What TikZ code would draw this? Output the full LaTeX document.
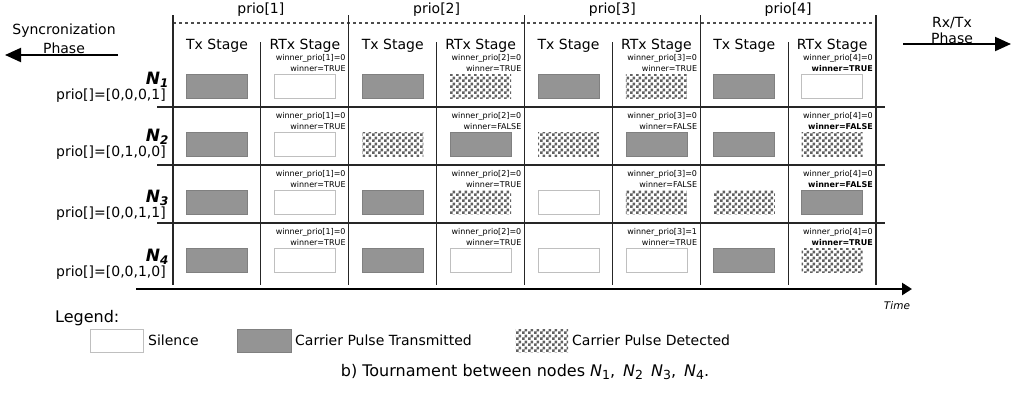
\documentclass[tikz,border=0pt]{standalone}
\usepackage{fontspec}
\setmainfont{DejaVu Sans}
\usetikzlibrary{patterns,arrows.meta}
\pgfdeclarepatternformonly{chk}{\pgfpointorigin}{\pgfqpoint{6pt}{6pt}}{\pgfqpoint{6pt}{6pt}}{%
  \pgfpathrectangle{\pgfpointorigin}{\pgfqpoint{3pt}{3pt}}%
  \pgfpathrectangle{\pgfqpoint{3pt}{3pt}}{\pgfqpoint{3pt}{3pt}}%
  \pgfusepath{fill}}
\newcommand{\capsub}[1]{\raisebox{-3.5pt}{\fontsize{12.5}{13}\selectfont #1}}
\tikzset{
  hdr/.style={font=\fontsize{14}{16}\selectfont, inner sep=0},
  win/.style={font=\fontsize{8}{9}\selectfont, inner sep=0, anchor=east},
  cellbox/.style={minimum width=61pt, minimum height=24pt, inner sep=0, line width=0.8pt},
  sil/.style={cellbox, draw=black!25, fill=white},
  txd/.style={cellbox, draw=black!50, fill=black!42},
  det/.style={cellbox, pattern=chk, pattern color=black!62},
  gridline/.style={line width=1.2pt, black!85},
  nlab/.style={font=\fontsize{17}{19}\selectfont\bfseries\itshape, inner sep=0, anchor=east},
  plab/.style={font=\fontsize{14}{16}\selectfont, inner sep=0, anchor=east},
  phasearrow/.style={line width=2pt, -{Triangle[length=16pt,width=14pt]}},
}
\begin{document}
\begin{tikzpicture}[x=1pt,y=-1pt]
\useasboundingbox[fill=white] (0,0) rectangle (1013,394);

% top prio labels and dashed line
\foreach \k in {0,...,3}{
  \node[hdr] (prio\k) at (260.875+175.75*\k,10) {prio[\the\numexpr\k+1\relax]};
  \node[hdr] (txh\k) at (217+175.75*\k,46) {Tx Stage};
  \node[hdr] (rtxh\k) at (304.9+175.75*\k,46) {RTx Stage};
}
\draw[line width=1.2pt, black!70, dash pattern=on 3pt off 3pt] (173,23) -- (876,23);

% grid lines
\foreach \k in {0,...,4}{
  \draw[gridline] (173+175.75*\k,15) -- (173+175.75*\k,285);
}
\foreach \k in {0,...,3}{
  \draw[gridline] (260.875+175.75*\k,42) -- (260.875+175.75*\k,285);
}
\foreach \y in {107,165,223}{
  \draw[gridline] (157,\y) -- (885,\y);
}

% row labels
\node[nlab] (n1) at (169,80) {N\textsubscript{1}};
\node[plab] (p1) at (166,96) {prio[]=[0,0,0,1]};
\node[nlab] (n2) at (169,137) {N\textsubscript{2}};
\node[plab] (p2) at (166,153) {prio[]=[0,1,0,0]};
\node[nlab] (n3) at (169,198) {N\textsubscript{3}};
\node[plab] (p3) at (166,214) {prio[]=[0,0,1,1]};
\node[nlab] (n4) at (169,257) {N\textsubscript{4}};
\node[plab] (p4) at (166,273) {prio[]=[0,0,1,0]};

% cells
\foreach \r/\p/\a/\b/\w/\v in {
1/1/txd/sil/0/TRUE, 1/2/txd/det/0/TRUE, 1/3/txd/det/0/TRUE, 1/4/txd/sil/0/TRUE,
2/1/txd/sil/0/TRUE, 2/2/det/txd/0/FALSE, 2/3/det/txd/0/FALSE, 2/4/txd/det/0/FALSE,
3/1/txd/sil/0/TRUE, 3/2/txd/det/0/TRUE, 3/3/sil/det/0/FALSE, 3/4/det/txd/0/FALSE,
4/1/txd/sil/0/TRUE, 4/2/txd/sil/0/TRUE, 4/3/sil/sil/1/TRUE, 4/4/txd/det/0/TRUE}{
  \pgfmathsetmacro\ty{{49,107,165,223}[\r-1]}
  \pgfmathsetmacro\xl{173+175.75*(\p-1)}
  \node[\a] (tx\r\p) at (\xl+44,\ty+37) {};
  \node[\b] (rtx\r\p) at (\xl+131.9,\ty+37) {};
  \node[win] (wp\r\p) at (\xl+172.75,\ty+9) {winner\_prio[\p]=\w};
  \node[win] (wv\r\p) at (\xl+172.75,\ty+19.5) {\ifnum\p=4\bfseries\fi winner=\v};
}

% time axis
\coordinate (tstart) at (136,289);
\coordinate (tend) at (912,289);
\draw[line width=2.5pt, -{Triangle[length=10pt,width=12pt]}] (tstart) -- (tend);
\node[font=\fontsize{10.5}{12}\selectfont\itshape, inner sep=0] (time) at (897,306) {Time};

% phase arrows
\node[hdr] (sync1) at (64,31) {Syncronization};
\node[hdr] (sync2) at (64,48) {Phase};
\coordinate (sa) at (118,55);
\coordinate (sb) at (5,55);
\draw[phasearrow] (sa) -- (sb);
\node[hdr] (rx1) at (952,23) {Rx/Tx};
\node[hdr] (rx2) at (952,38) {Phase};
\coordinate (ra) at (903,44);
\coordinate (rb) at (1011,44);
\draw[phasearrow] (ra) -- (rb);

% legend
\node[font=\fontsize{16}{18}\selectfont, inner sep=0, anchor=west] (leg) at (55,318) {Legend:};
\node[sil, minimum width=53pt, minimum height=23pt] (lsil) at (116.5,340.5) {};
\node[hdr, anchor=west] (lsilt) at (148,340) {Silence};
\node[txd, minimum width=54pt, minimum height=23pt] (ltx) at (264,340.5) {};
\node[hdr, anchor=west] (ltxt) at (295,340) {Carrier Pulse Transmitted};
\node[det, minimum width=53pt, minimum height=23pt] (ldet) at (541.5,340.5) {};
\node[hdr, anchor=west] (ldett) at (572,340) {Carrier Pulse Detected};

% caption
\node[font=\fontsize{16}{18}\selectfont, inner sep=0] (cap) at (525,372)
  {b) Tournament between nodes \textit{N}\capsub{1},\hspace{8pt}\textit{N}\capsub{2}\hspace{8pt}\textit{N}\capsub{3},\hspace{8pt}\textit{N}\capsub{4}.};
\end{tikzpicture}
\end{document}
